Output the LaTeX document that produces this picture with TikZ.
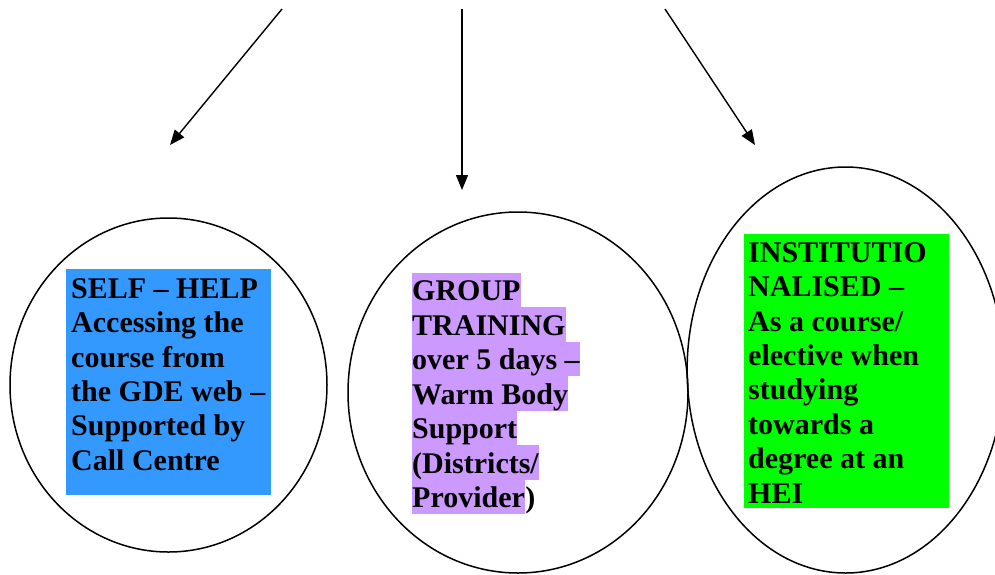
\documentclass[tikz,border=0pt]{standalone}
\usepackage{fontspec}
\setmainfont{Liberation Serif}
\usetikzlibrary{arrows.meta,shapes.geometric}
\definecolor{selfblue}{RGB}{51,153,255}
\definecolor{grouppurple}{RGB}{204,153,255}
\definecolor{instgreen}{RGB}{0,255,0}
\begin{document}
\begin{tikzpicture}[x=1pt,y=-1pt,
  ring/.style={draw, ellipse, line width=1.5pt, inner sep=0pt},
  feed/.style={line width=1.4pt, -{Triangle[length=15pt,width=12pt]}},
  bigtext/.style={font=\bfseries\fontsize{30}{34.4}\selectfont},
  boxtext/.style={bigtext, anchor=north west, inner sep=0pt, align=left},
  hl/.style={bigtext, fill=grouppurple, inner sep=0pt, text height=28pt, text depth=6.5pt, anchor=base west},
  plainbox/.style={inner sep=0pt, anchor=north west}]
\useasboundingbox (0,0) rectangle (995,574);
% arrows
\coordinate (lefttop) at (282,9);
\coordinate (lefttip) at (170,145);
\coordinate (midtop) at (462,9);
\coordinate (midtip) at (462,190);
\coordinate (righttop) at (665,9);
\coordinate (righttip) at (755,145);
\draw[feed] (lefttop) -- (lefttip);
\draw[feed] (midtop) -- (midtip);
\draw[feed] (righttop) -- (righttip);
% ellipses
\node[ring, minimum width=317pt, minimum height=334pt] (selfring) at (168.5,385) {};
\node[ring, minimum width=340pt, minimum height=361pt] (groupring) at (518,392.5) {};
\node[ring, minimum width=317pt, minimum height=406pt] (instring) at (845.6,370) {};
% self help box
\node[plainbox, fill=selfblue, minimum width=205pt, minimum height=226pt] (selfbox) at (66,269) {};
\node[boxtext] (selftext) at (71,273) {\rule{0pt}{25pt}SELF – HELP\\Accessing the\\course from\\the GDE web –\\Supported by\\Call Centre};
% institutionalised box
\node[plainbox, fill=instgreen, minimum width=205pt, minimum height=274pt] (instbox) at (744,234) {};
\node[boxtext] (insttext) at (748,237) {\rule{0pt}{25pt}INSTITUTIO\\NALISED –\\As a course/\\elective when\\studying\\towards a\\degree at an\\HEI};
% group training highlighted lines
\node[hl] (g1) at (412,300.5) {GROUP};
\node[hl] (g2) at (412,335) {TRAINING};
\node[hl] (g3) at (412,369.5) {over 5 days –};
\node[hl] (g4) at (412,404) {Warm Body};
\node[hl] (g5) at (412,438.5) {Support};
\node[hl] (g6) at (412,473) {(Districts/};
\node[hl] (g7) at (412,507.5) {Provider};
\node[bigtext, anchor=base west, inner sep=0pt] (g7paren) at (g7.base east) {)};
\end{tikzpicture}
\end{document}
